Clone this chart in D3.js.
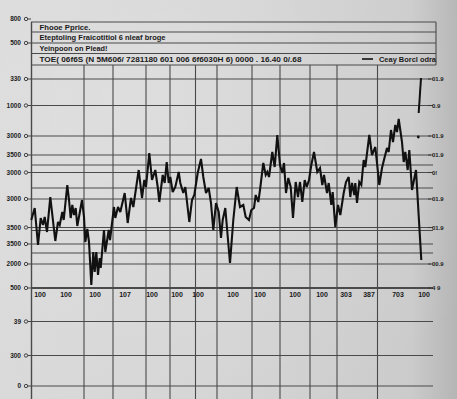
<!DOCTYPE html>
<html><head><meta charset="utf-8">
<script src="https://cdn.jsdelivr.net/npm/d3@7/dist/d3.min.js"></script>
<style>html,body{margin:0;padding:0;background:#d2d2d2;}svg{display:block;}</style>
</head><body><svg id="c" width="457" height="399"></svg>
<script>
// ---- data ----
const days = [0.15,1.85,3.5,4.85,6,6.85,8,9.65,10.5,12.15,13.5,14.35,15.65,16.35,18.15,19,19.85,20.65,21.5,22.35,23.15,24.35,25.5,26.5,27.15,28.15,29,30.15,31.15,31.85,32.65,33.5,34.35,34.85,36.5,37.15,38.85,39.5,41.5,42.15,43.5,44.65,46.85,48.35,50,51.15,53.85,55.5,56.65,57.5,59.15,60.5,62.15,63.35,64.15,65.85,66.85,67.85,68.85,69.65,70.85,72.15,73.85,74.65,76.15,77.15,79.15,80.5,81.65,83.35,85,86.15,87.5,88.85,90,91.15,92.5,93.85,95,95.85,97.15,97.65,99.5,101.15,102.85,104.5,106.15,107.35,109,110.15,111.5,112.35,113.65,114.5,116.15,117.35,118.15,119,120.65,121.85,123.15,124.5,125.65,126.5,127.5,128.65,129.85,131,132.35,133.5,134.5,135.65,136.85,137.85,139,140.15,141.5,143.15,144.5,145.65,146.5,148,148.85,150.15,150.85,152.15,153.5,154.65,156.35,157.5,158.85,159.65,160.5,161.65,162.15,163,164.15,165.15,166.35,167.15,169.15,170.5,172.15,173,174.15,175.5,176.85,178,178.85,180,181,182.15,183,183.85,185.5,186.35,187.15,188.35,189.15,190.5,192.5,195.15];
const prices = [83,89,70.5,84,80.5,84.5,77,94.5,87,72.5,82,80.5,87,83,100.5,93,84,90.5,85.5,89,80,86.5,93,84.5,72,78.5,72,50.5,67,57,67,55.5,64,59,78,67,78,73,89.5,84,89.5,87,96.5,81.5,94,89.5,108,94,103,99.5,116.5,103,108,99.5,92,105.5,101.5,112,101.5,104.5,97,99.5,107,101.5,96.5,99.5,82,93,95.5,106.5,113.5,104.5,96.5,99,91.5,78,91.5,87,74,83,89,83,61.5,83,99.5,89.5,90.5,84.5,83,88,89,95.5,92,98,111.5,105.5,107,104.5,117,109.5,125.5,110.5,106.5,111.5,96.5,104,99.5,84,102,94.5,102,92,103,99.5,103,110.5,117,107,109,100.5,105.5,96.5,101.5,90.5,97,79.5,90.5,85.5,96.5,102,104.5,94.5,101.5,95.5,101.5,91.5,102,100.5,113,109.5,125.5,115.5,119.5,111.5,100.5,109,114.5,119,117,128,122,130.5,127,133.5,122,112,117,108,118,98,108,63];
const spikeDays = [193.85,195];
const spikeValues = [136.5,154];
const dotDays = [193.65];
const dotValues = [124.5];

const titleLines = ["Fhooe Pprice.","Eteptoling Fraicotitiol 6 nleaf broge","Yeinpoon on Plead!"];
const subtitle = "TOE( 06f6S (N 5M606/ 7281180 601 006 6f6030H 6) 0000 . 16.40 0/.68";
const legendLabel = "Ceay Borcl odra";

const yTickValues = [153.5,140.25,125,115.5,106.75,93.5,79.25,71,61,49,32.25,15.25,0];
const yTickLabels = ["330","1000","3000","3500","3000","3000","3500","3500","2000","500","39","300","0"];
const yExtraGrid = [110.5,99,77.75,66.5];
const rightTickValues = [153.5,140.25,125,115.5,106.75,93.5,79.25,61,49];
const rightTickLabels = ["01.9","0.9","01.9","01.9","0!","01.9","01.9","00.9","4 9"];
const xTickValues = [4.5,17.5,32,47,60.5,73,83.5,101,114.5,132,145.5,157.5,169,183.5,196.5];
const xTickLabels = ["100","100","100","107","100","100","100","100","100","100","100","303","387","703","100"];
const xGridValues = [26.5,41,57.5,69.5,82.25,93,110.5,124.5,139.5,153,173.25];
const headerTickLabels = ["800","500"];

// ---- drawing ----
const W = 457, H = 399;
const svg = d3.select("#c");
const x = d3.scaleLinear().domain([0,201]).range([31,433]);
const y = d3.scaleLinear().domain([0,154]).range([386,78]);
const font = "'Liberation Sans', Arial, sans-serif";
const gridCol = "#4a4a4a";

const defs = svg.append("defs");
const lg = defs.append("linearGradient").attr("id","bg").attr("x1",0).attr("x2",1).attr("y1",0).attr("y2",0);
lg.append("stop").attr("offset","0").attr("stop-color","#d9d9d9");
lg.append("stop").attr("offset","0.5").attr("stop-color","#d4d4d4");
lg.append("stop").attr("offset","0.9").attr("stop-color","#cbcbcb");
lg.append("stop").attr("offset","1").attr("stop-color","#b5b5b5");
svg.append("rect").attr("width",W).attr("height",H).attr("fill","url(#bg)");
const rg = defs.append("radialGradient").attr("id","vig").attr("cx",0.3).attr("cy",0.25).attr("r",0.9);
rg.append("stop").attr("offset","0").attr("stop-color","#fff").attr("stop-opacity",0.18);
rg.append("stop").attr("offset","1").attr("stop-color","#fff").attr("stop-opacity",0);
svg.append("rect").attr("width",W).attr("height",H).attr("fill","url(#vig)");

// header box
const hdrY = [22,32,43,53.5,65];
const hdr = svg.append("g");
hdrY.forEach(v => hdr.append("line").attr("x1",31).attr("x2",436).attr("y1",v).attr("y2",v)
  .attr("stroke",gridCol).attr("stroke-width",1.1));
hdr.append("line").attr("x1",436).attr("x2",436).attr("y1",22).attr("y2",65).attr("stroke",gridCol).attr("stroke-width",1.1);
const titleLens = [51,126,68];
titleLines.forEach((t,i) => hdr.append("text").attr("x",39.5).attr("y",hdrY[i]+8)
  .attr("font-family",font).attr("font-weight","bold").attr("font-size",8).attr("fill","#1a1a1a")
  .attr("textLength",titleLens[i]).attr("lengthAdjust","spacingAndGlyphs").text(t));
hdr.append("text").attr("x",39.5).attr("y",62).attr("font-family",font).attr("font-weight","bold")
  .attr("font-size",7.5).attr("fill","#1a1a1a").attr("textLength",262).attr("lengthAdjust","spacingAndGlyphs").text(subtitle);
hdr.append("line").attr("x1",362).attr("x2",373).attr("y1",59).attr("y2",59).attr("stroke","#111").attr("stroke-width",1.6);
hdr.append("text").attr("x",379).attr("y",62).attr("font-family",font).attr("font-weight","bold")
  .attr("font-size",7.5).attr("fill","#1a1a1a").attr("textLength",57).attr("lengthAdjust","spacingAndGlyphs").text(legendLabel);
[19,43].forEach((py,i) => {
  hdr.append("text").attr("x",21).attr("y",py+2.3).attr("text-anchor","end").attr("font-family",font)
    .attr("font-weight","bold").attr("font-size",6.5).attr("fill","#222").text(headerTickLabels[i]);
  hdr.append("circle").attr("cx",26).attr("cy",py).attr("r",1.7).attr("fill","none").attr("stroke","#333").attr("stroke-width",0.9);
  hdr.append("line").attr("x1",27.7).attr("x2",31).attr("y1",py).attr("y2",py).attr("stroke","#333").attr("stroke-width",0.9);
});

// horizontal grid
const grid = svg.append("g");
yTickValues.concat(yExtraGrid).forEach(v => grid.append("line")
  .attr("x1",31).attr("x2",433).attr("y1",y(v)).attr("y2",y(v))
  .attr("stroke",gridCol).attr("stroke-width", v===49 ? 2 : 1.1));
// vertical grid
xGridValues.forEach(v => grid.append("line").attr("x1",x(v)).attr("x2",x(v)).attr("y1",65).attr("y2",H)
  .attr("stroke",gridCol).attr("stroke-width",1.1));
grid.append("line").attr("x1",31.5).attr("x2",31.5).attr("y1",22).attr("y2",H).attr("stroke",gridCol).attr("stroke-width",1.4);

// left axis labels
const yAxisG = svg.append("g");
yTickValues.forEach((v,i) => {
  const py = y(v);
  yAxisG.append("text").attr("x",21).attr("y",py+2.3).attr("text-anchor","end").attr("font-family",font)
    .attr("font-weight","bold").attr("font-size",6.5).attr("fill","#222").text(yTickLabels[i]);
  yAxisG.append("circle").attr("cx",26).attr("cy",py).attr("r",1.7).attr("fill","none").attr("stroke","#333").attr("stroke-width",0.9);
  yAxisG.append("line").attr("x1",27.7).attr("x2",31).attr("y1",py).attr("y2",py).attr("stroke","#333").attr("stroke-width",0.9);
});
// right labels
rightTickValues.forEach((v,i) => {
  const py = y(v);
  yAxisG.append("line").attr("x1",428).attr("x2",431).attr("y1",py).attr("y2",py).attr("stroke","#333").attr("stroke-width",0.9);
  yAxisG.append("text").attr("x",432).attr("y",py+2.2).attr("font-family",font)
    .attr("font-weight","bold").attr("font-size",6).attr("fill","#222").text(rightTickLabels[i]);
});
// x labels
xTickValues.forEach((v,i) => svg.append("text").attr("x",x(v)).attr("y",296.5).attr("text-anchor","middle")
  .attr("font-family",font).attr("font-weight","bold").attr("font-size",7).attr("fill","#1a1a1a").text(xTickLabels[i]));

// price line
const line = d3.line().x(d => x(d[0])).y(d => y(d[1]));
svg.append("path").datum(d3.zip(days, prices)).attr("d", line)
  .attr("fill","none").attr("stroke","#111").attr("stroke-width",2.1).attr("stroke-linejoin","miter").attr("stroke-miterlimit",3);
svg.append("path").datum(d3.zip(spikeDays, spikeValues)).attr("d", line)
  .attr("fill","none").attr("stroke","#111").attr("stroke-width",2);
svg.selectAll("circle.dot").data(d3.zip(dotDays, dotValues)).enter().append("circle").attr("class","dot")
  .attr("cx",d => x(d[0])).attr("cy",d => y(d[1])).attr("r",1.4).attr("fill","#111");
</script></body></html>
